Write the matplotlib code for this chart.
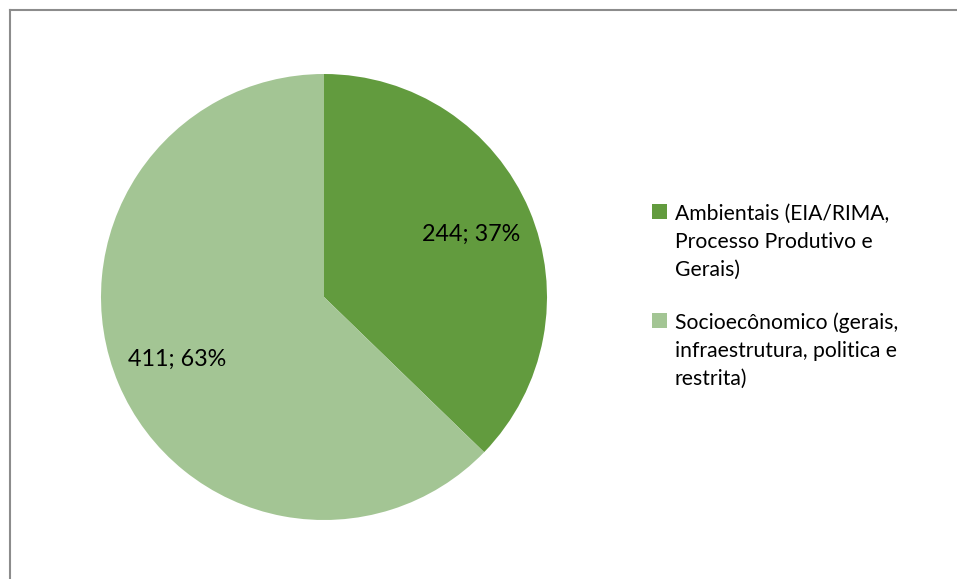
import matplotlib
matplotlib.use("Agg")
import matplotlib.pyplot as plt
from matplotlib.patches import Rectangle
from matplotlib.lines import Line2D
import numpy as np

categories = [
    "Ambientais (EIA/RIMA,\nProcesso Produtivo e\nGerais)",
    "Socioecônomico (gerais,\ninfraestrutura, politica e\nrestrita)",
]
values = [244, 411]
colors = ["#629B3E", "#A3C594"]

plt.rcParams["font.family"] = ["Lato", "DejaVu Sans"]
W, H = 957, 579
fig = plt.figure(figsize=(W / 100, H / 100), dpi=100)

# pie axes placed in pixel terms: centre (324, 297), radius 223
cx, cy, r = 324, 297, 223
ax = fig.add_axes([(cx - r) / W, (H - cy - r) / H, 2 * r / W, 2 * r / H])
wedges, _ = ax.pie(values, colors=colors, startangle=90, counterclock=False,
                   radius=1.0, wedgeprops=dict(linewidth=0))
ax.set_xlim(-1, 1)
ax.set_ylim(-1, 1)
ax.set_aspect("equal")
ax.axis("off")

total = sum(values)
for w, v in zip(wedges, values):
    mid = np.deg2rad((w.theta1 + w.theta2) / 2)
    d = 0.715
    ax.text(d * np.cos(mid), d * np.sin(mid), f"{v}; {round(100 * v / total)}%",
            ha="center", va="center", fontsize=16.8, color="#000000")

# chart frame (top and left edges visible)
fig.add_artist(Line2D([9.5 / W, 1.0], [1 - 9.5 / H, 1 - 9.5 / H],
                      transform=fig.transFigure, color="#8C8C8C", lw=1.5))
fig.add_artist(Line2D([9.5 / W, 9.5 / W], [0.0, 1 - 9.5 / H],
                      transform=fig.transFigure, color="#8C8C8C", lw=1.5))

# legend: square marker plus wrapped label, one baseline per line
first_baselines = [220, 329]
line_step = 28
for base, label, col in zip(first_baselines, categories, colors):
    fig.add_artist(Rectangle((652 / W, 1 - (base - 1) / H), 15 / W, 15 / H,
                             transform=fig.transFigure, color=col, lw=0))
    for i, line in enumerate(label.split("\n")):
        fig.text(675 / W, 1 - (base + i * line_step) / H, line, ha="left",
                 va="baseline", fontsize=15.2, color="#000000")

fig.savefig("out.png", dpi=100)
